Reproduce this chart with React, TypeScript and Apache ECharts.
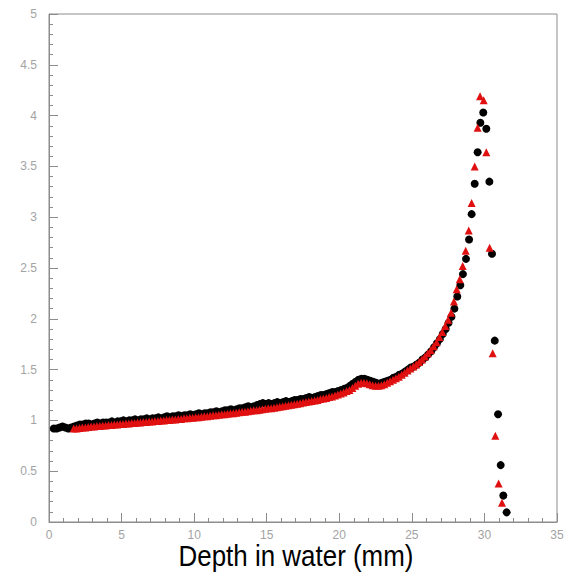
import React, { useEffect, useRef } from "react";
import * as echarts from "echarts";

// Measured dose (black circles): [depth mm, relative dose]
const measured: [number, number][] = [
  [0.33, 0.92], [0.53, 0.92], [0.73, 0.93], [0.93, 0.94], [1.13, 0.93], [1.33, 0.92], [1.53, 0.93], [1.73, 0.94],
  [1.93, 0.95], [2.13, 0.96], [2.33, 0.96], [2.53, 0.97], [2.73, 0.97], [2.93, 0.96], [3.13, 0.97], [3.33, 0.98],
  [3.53, 0.97], [3.73, 0.98], [3.93, 0.98], [4.13, 0.98], [4.33, 0.99], [4.53, 0.98], [4.73, 0.99], [4.93, 0.99],
  [5.13, 1.0], [5.33, 0.99], [5.53, 1.0], [5.73, 1.0], [5.93, 1.01], [6.13, 1.0], [6.33, 1.01], [6.53, 1.01],
  [6.73, 1.02], [6.93, 1.01], [7.13, 1.02], [7.33, 1.02], [7.53, 1.03], [7.73, 1.02], [7.93, 1.03], [8.13, 1.04],
  [8.33, 1.03], [8.53, 1.04], [8.73, 1.04], [8.93, 1.05], [9.13, 1.04], [9.33, 1.05], [9.53, 1.05], [9.73, 1.06],
  [9.93, 1.05], [10.13, 1.06], [10.33, 1.07], [10.53, 1.06], [10.73, 1.07], [10.93, 1.07], [11.13, 1.08], [11.33, 1.08],
  [11.53, 1.09], [11.73, 1.08], [11.93, 1.09], [12.13, 1.1], [12.33, 1.1], [12.53, 1.11], [12.73, 1.1], [12.93, 1.11],
  [13.13, 1.12], [13.33, 1.12], [13.53, 1.13], [13.73, 1.14], [13.93, 1.13], [14.13, 1.14], [14.33, 1.15], [14.53, 1.16],
  [14.73, 1.17], [14.93, 1.16], [15.13, 1.17], [15.33, 1.16], [15.53, 1.17], [15.73, 1.18], [15.93, 1.17], [16.13, 1.18],
  [16.33, 1.19], [16.53, 1.18], [16.73, 1.19], [16.93, 1.2], [17.13, 1.2], [17.33, 1.21], [17.53, 1.21], [17.73, 1.22],
  [17.93, 1.23], [18.13, 1.22], [18.33, 1.23], [18.53, 1.24], [18.73, 1.25], [18.93, 1.25], [19.13, 1.26], [19.33, 1.27],
  [19.53, 1.28], [19.73, 1.28], [19.93, 1.29], [20.13, 1.3], [20.33, 1.31], [20.53, 1.32], [20.73, 1.34], [20.93, 1.36],
  [21.13, 1.38], [21.33, 1.4], [21.53, 1.41], [21.73, 1.41], [21.93, 1.4], [22.13, 1.39], [22.33, 1.38], [22.53, 1.37],
  [22.73, 1.36], [22.93, 1.37], [23.13, 1.38], [23.33, 1.39], [23.53, 1.4], [23.73, 1.42], [23.93, 1.43], [24.13, 1.45],
  [24.33, 1.46], [24.53, 1.48], [24.73, 1.5], [24.93, 1.52], [25.13, 1.53], [25.33, 1.55], [25.53, 1.57], [25.73, 1.6],
  [25.93, 1.62], [26.13, 1.65], [26.33, 1.68], [26.53, 1.72], [26.73, 1.76], [26.93, 1.8], [27.13, 1.85], [27.33, 1.9],
  [27.53, 1.96], [27.73, 2.02], [27.93, 2.1], [28.13, 2.22], [28.34, 2.33], [28.52, 2.44], [28.73, 2.59], [28.94, 2.78],
  [29.12, 3.03], [29.33, 3.33], [29.53, 3.64], [29.72, 3.93], [29.92, 4.03], [30.13, 3.87], [30.34, 3.35], [30.52, 2.64],
  [30.71, 1.785], [30.94, 1.06], [31.12, 0.56], [31.3, 0.26], [31.53, 0.095],
];

// Simulated dose (red triangles): [depth mm, relative dose]
const simulated: [number, number][] = [
  [1.7, 0.92], [1.9, 0.92], [2.1, 0.925], [2.3, 0.93], [2.5, 0.93], [2.7, 0.935], [2.9, 0.94], [3.1, 0.94],
  [3.3, 0.945], [3.5, 0.945], [3.7, 0.95], [3.9, 0.95], [4.1, 0.955], [4.3, 0.955], [4.5, 0.96], [4.7, 0.96],
  [4.9, 0.965], [5.1, 0.965], [5.3, 0.97], [5.5, 0.97], [5.7, 0.975], [5.9, 0.975], [6.1, 0.98], [6.3, 0.98],
  [6.5, 0.985], [6.7, 0.985], [6.9, 0.99], [7.1, 0.99], [7.3, 0.995], [7.5, 0.995], [7.7, 1.0], [7.9, 1.0],
  [8.1, 1.005], [8.3, 1.005], [8.5, 1.01], [8.7, 1.01], [8.9, 1.015], [9.1, 1.015], [9.3, 1.02], [9.5, 1.02],
  [9.7, 1.025], [9.9, 1.025], [10.1, 1.03], [10.3, 1.03], [10.5, 1.035], [10.7, 1.04], [10.9, 1.04], [11.1, 1.045],
  [11.3, 1.05], [11.5, 1.05], [11.7, 1.055], [11.9, 1.06], [12.1, 1.06], [12.3, 1.065], [12.5, 1.07], [12.7, 1.07],
  [12.9, 1.075], [13.1, 1.08], [13.3, 1.085], [13.5, 1.085], [13.7, 1.09], [13.9, 1.095], [14.1, 1.1], [14.3, 1.1],
  [14.5, 1.105], [14.7, 1.11], [14.9, 1.115], [15.1, 1.12], [15.3, 1.12], [15.5, 1.125], [15.7, 1.13], [15.9, 1.135],
  [16.1, 1.14], [16.3, 1.145], [16.5, 1.15], [16.7, 1.155], [16.9, 1.16], [17.1, 1.165], [17.3, 1.17], [17.5, 1.175],
  [17.7, 1.18], [17.9, 1.185], [18.1, 1.19], [18.3, 1.195], [18.5, 1.2], [18.7, 1.21], [18.9, 1.215], [19.1, 1.22],
  [19.3, 1.23], [19.5, 1.235], [19.7, 1.245], [19.9, 1.255], [20.1, 1.265], [20.3, 1.275], [20.5, 1.29], [20.7, 1.3],
  [20.9, 1.32], [21.1, 1.34], [21.3, 1.36], [21.5, 1.37], [21.7, 1.37], [21.9, 1.365], [22.1, 1.355], [22.3, 1.345],
  [22.5, 1.34], [22.7, 1.34], [22.9, 1.345], [23.1, 1.355], [23.3, 1.37], [23.5, 1.385], [23.7, 1.4], [23.9, 1.415],
  [24.1, 1.43], [24.3, 1.45], [24.5, 1.47], [24.7, 1.49], [24.9, 1.51], [25.1, 1.53], [25.3, 1.55], [25.5, 1.575],
  [25.7, 1.6], [25.9, 1.63], [26.1, 1.66], [26.3, 1.69], [26.5, 1.73], [26.7, 1.77], [26.9, 1.82], [27.1, 1.87],
  [27.3, 1.93], [27.5, 1.99], [27.7, 2.06], [27.9, 2.17], [28.09, 2.29], [28.3, 2.39], [28.5, 2.52], [28.71, 2.67],
  [28.92, 2.87], [29.12, 3.14], [29.33, 3.5], [29.53, 3.88], [29.7, 4.19], [29.95, 4.15], [30.13, 3.64], [30.36, 2.7],
  [30.57, 1.66], [30.75, 0.85], [30.98, 0.38], [31.21, 0.19],
];

const xTitle = "Depth in water (mm)";
const xRange = [0, 35];
const yRange = [0, 5];

const AXIS = "#8c8c8c";
const LABEL = "#a3a3a3";

export default function App() {
  const ref = useRef<HTMLDivElement>(null);
  useEffect(() => {
    if (!ref.current) return;
    const chart = echarts.init(ref.current, undefined, { renderer: "svg" });
    const axisCommon = {
      type: "value" as const,
      axisLine: { show: true, onZero: false, lineStyle: { color: AXIS, width: 1 } },
      axisTick: { show: true, inside: true, length: 9, lineStyle: { color: AXIS } },
      minorTick: { show: true, splitNumber: 5, length: 4, lineStyle: { color: AXIS } },
      splitLine: { show: false },
      axisLabel: { color: LABEL, fontSize: 12, fontFamily: "Liberation Sans, Arial, sans-serif" },
    };
    chart.setOption({
      animation: false,
      backgroundColor: "#ffffff",
      grid: { left: 49, right: 12, top: 14, bottom: 51, show: true, borderColor: AXIS, borderWidth: 1 },
      xAxis: {
        ...axisCommon,
        min: xRange[0],
        max: xRange[1],
        interval: 5,
        axisLabel: { ...axisCommon.axisLabel, margin: 7 },
      },
      yAxis: {
        ...axisCommon,
        min: yRange[0],
        max: yRange[1],
        interval: 0.5,
        axisLabel: { ...axisCommon.axisLabel, margin: 12 },
      },
      graphic: [
        {
          type: "text",
          x: 296,
          y: 556,
          scaleX: 0.865,
          style: {
            text: xTitle,
            x: 0,
            y: 0,
            fill: "#000",
            font: "30px 'Liberation Sans', Arial, sans-serif",
            textAlign: "center",
            textVerticalAlign: "middle",
          },
        },
      ],
      series: [
        {
          type: "scatter",
          data: measured,
          symbol: "circle",
          symbolSize: 8,
          itemStyle: { color: "#000000", opacity: 1 },
          z: 2,
        },
        {
          type: "scatter",
          data: simulated,
          symbol: "triangle",
          symbolSize: 8,
          itemStyle: { color: "#e01010", opacity: 1 },
          z: 3,
        },
      ],
    });
    return () => chart.dispose();
  }, []);
  return (
    <div
      ref={ref}
      style={{ position: "fixed", left: 0, top: 0, width: 569, height: 573, background: "#fff" }}
    />
  );
}
